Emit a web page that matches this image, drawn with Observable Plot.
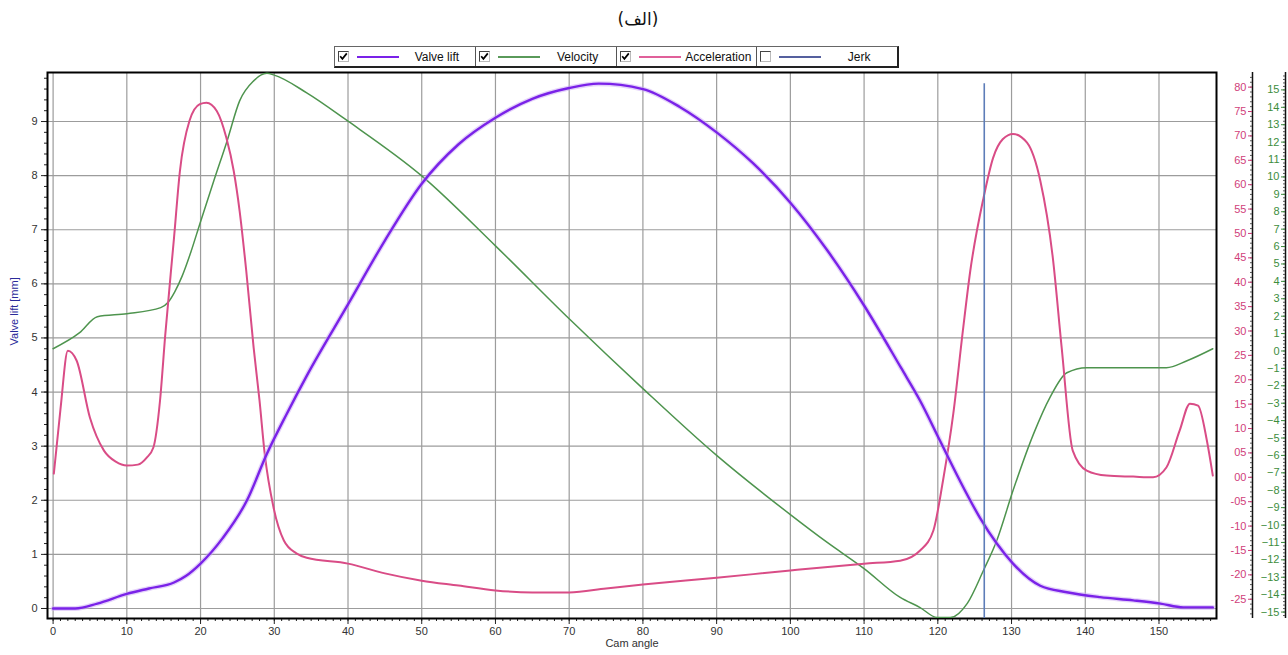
<!DOCTYPE html>
<html>
<head>
<meta charset="utf-8">
<script src="https://cdn.jsdelivr.net/npm/d3@7"></script>
<script src="https://cdn.jsdelivr.net/npm/@observablehq/plot@0.6"></script>
<style>
  body { margin: 0; background: #fff; }
  #wrap { position: relative; width: 1288px; height: 655px; overflow: hidden; font-family: "Liberation Sans", Arial, sans-serif; }
  #wrap > svg { position: absolute; left: 0; top: 0; }
  #title { position: absolute; left: 588px; width: 100px; top: 9px; text-align: center; font: 17px "DejaVu Sans", sans-serif; color: #111; z-index: 5; }
  #legend { position: absolute; left: 334px; top: 46px; width: 562px; height: 19px; display: flex; border: 1px solid #666; border-right: 2px solid #222; border-bottom: 2px solid #222; background: #fff; z-index: 5; }
  .cell { flex: 1; display: flex; align-items: center; border-right: 1px solid #555; }
  .cell:last-child { border-right: none; }
  .cb { width: 9px; height: 9px; border: 1px solid #444; border-right-color: #bbb; border-bottom-color: #bbb; margin-left: 3px; margin-right: 8px; display: flex; align-items: center; justify-content: center; background: #fff; }
  .cb svg { display: block; }
  .ln { width: 42px; height: 2px; }
  .lt { flex: 1; text-align: center; font: 12px "Liberation Sans", Arial, sans-serif; color: #111; }
</style>
</head>
<body>
<div id="wrap">
  <div id="title" dir="rtl">(الف)</div>
  <div id="legend"></div>
</div>
<script>
// ---------- data ----------
const liftAngle = [0,3,6,10,13,16.4,18,20,23,26.3,29,31.7,34.4,40,45,50,55,60,65,70,74,80,85,90,95,100,105,110,115,117.6,120.3,123,125.7,128,130.2,133.9,137.5,142,146.5,150.2,153.3,157.3];
const liftMm    = [0,0,0.09,0.27,0.37,0.48,0.6,0.83,1.3,2.0,2.86,3.6,4.3,5.62,6.8,7.85,8.58,9.07,9.42,9.62,9.7,9.6,9.27,8.8,8.22,7.5,6.62,5.6,4.45,3.84,3.1,2.36,1.68,1.2,0.83,0.42,0.3,0.21,0.15,0.09,0.02,0.02];

const velAngle = [0,3.6,6,10,14.6,15.6,16.5,17.5,18.7,19.9,21.8,23.6,25.3,27.2,29,30,34.4,40,50,60,70,80,90,100,105,110,114.9,117.6,119.9,121.7,124,126.2,128,130.2,133,135.2,137.5,140.2,151,153.8,157.3];
const velValue = [0.13,1.05,1.97,2.14,2.49,2.8,3.4,4.3,5.7,7.3,9.78,12.07,14.37,15.52,15.95,15.85,14.83,13.2,10.06,6.04,1.85,-2.16,-6.0,-9.4,-11.0,-12.5,-14.16,-14.74,-15.31,-15.31,-14.5,-12.6,-10.89,-8.02,-4.75,-2.68,-1.25,-0.96,-0.96,-0.56,0.13];

const accAngle = [0.1,1,2,3.2,5,6.9,8.5,10,11.5,12.7,13.6,14.5,15.2,16.4,17.2,18.5,19.9,20.8,22.2,23.5,24.5,25.3,26.2,27.2,28,28.7,29.9,31.3,33,34.4,40,45,50,55,60,65,70,75,80,90,100,110,114.9,117.6,119.4,120.7,122.1,123.4,124.4,126.2,127.5,128.8,130.2,132.1,133.9,135.6,136.8,138.3,140.2,142.9,146.5,149.2,151,152.8,154.2,155.3,156.5,157.3];
const accValue = [0.76,14,25.96,23.9,12.2,5.47,3.2,2.4,2.6,4.04,6.1,15.7,29,49.1,62.8,73.1,76.5,76.8,75.1,69.6,62.8,54.6,42.3,26.6,15.7,4.86,-6.2,-12.97,-15.6,-16.5,-17.7,-19.7,-21.2,-22.2,-23.2,-23.6,-23.6,-22.8,-22,-20.6,-19.1,-17.7,-17.1,-15.0,-10.9,-0.7,13.05,30.06,42.3,57.3,65.5,69.3,70.4,68.6,60.8,45.0,26.6,5.47,1.37,0.35,0.14,0,2.0,9.57,15.1,14.7,7.5,0.35];

const cursorAngle = [126.3];
const cursorTopMm = [9.7];

const xTicks    = d3.range(0, 151, 10);
const xMinor    = d3.range(0, 158, 1);
const liftTicks = d3.range(0, 10, 1);
const liftMinor = d3.range(0, 9.85, 0.2);
const accTicks  = d3.range(-25, 81, 5);
const accMinor  = d3.range(-28, 83, 1);
const velTicks  = d3.range(-15, 16, 1);
const velMinor  = d3.range(-15.2, 15.95, 0.2);

const legendNames   = ["Valve lift", "Velocity", "Acceleration", "Jerk"];
const legendChecked = [true, true, true, false];
const legendColors  = ["#7a22e8", "#5a9a5a", "#e0609a", "#55609e"];

// ---------- styling / layout ----------
const W = 1288, H = 655;
const M = {top: 72, right: 72, bottom: 37, left: 47};
const xDomain    = [-0.76, 157.8];
const liftDomain = [-0.185, 9.906];
const velDomain  = [-15.37, 16.0];
const accDomain  = [-28.95, 83.0];
const LIFT = "#7a22e8", VEL = "#4e944e", ACC = "#d94c86", CUR = "#5d7db8";

const lift = liftAngle.map((a, i) => ({a, v: liftMm[i]}));
const vel  = velAngle.map((a, i) => ({a, v: velValue[i]}));
const acc  = accAngle.map((a, i) => ({a, v: accValue[i]}));
const cursor = cursorAngle.map((a, i) => ({a, top: cursorTopMm[i]}));

function layer(yDomain, marks) {
  return Plot.plot({
    width: W, height: H,
    marginTop: M.top, marginRight: M.right, marginBottom: M.bottom, marginLeft: M.left,
    x: {domain: xDomain, axis: null},
    y: {domain: yDomain, axis: null},
    style: {background: "transparent", fontFamily: "Liberation Sans, Arial, sans-serif", fontSize: "11px", color: "#222", overflow: "visible"},
    marks
  });
}

const wrap = document.getElementById("wrap");

// base layer: grid, frame, axes
wrap.appendChild(layer(liftDomain, [
  Plot.gridX({ticks: xTicks, stroke: "#9c9c9c", strokeOpacity: 1, strokeWidth: 1.2}),
  Plot.gridY({ticks: liftTicks, stroke: "#9c9c9c", strokeOpacity: 1, strokeWidth: 1.2}),
  Plot.axisX({ticks: xMinor, tickSize: 3, tickFormat: () => "", label: null}),
  Plot.axisX({ticks: xTicks, tickSize: 6, tickPadding: 3, label: null, fill: "#333"}),
  Plot.axisY({anchor: "left", ticks: liftMinor, tickSize: 3, tickFormat: () => "", label: null}),
  Plot.axisY({anchor: "left", ticks: liftTicks, tickSize: 6, tickPadding: 4, label: null, fill: "#333"}),
  Plot.text(["Cam angle"], {text: d => d, frameAnchor: "bottom", dy: 28, fill: "#333", fontSize: 11}),
  Plot.text(["Valve lift [mm]"], {text: d => d, frameAnchor: "left", rotate: -90, dx: -33, fill: "#2a2a9a", fontSize: 11}),
  Plot.frame({stroke: "#000", strokeWidth: 2})
]));

// velocity layer
wrap.appendChild(layer(velDomain, [
  Plot.line(vel, {x: "a", y: "v", stroke: VEL, strokeWidth: 1.5, curve: "monotone-x", clip: true}),
  Plot.ruleX([xDomain[0]], {dx: 1238, stroke: "#111", strokeWidth: 1.5}),
  Plot.axisY({anchor: "left", dx: 1238, ticks: velMinor, tickSize: 2, tickFormat: () => "", label: null, stroke: "#555"}),
  Plot.axisY({anchor: "left", dx: 1238, ticks: velTicks, tickSize: 4, tickPadding: 2, label: null, fill: "#3d8d3d", stroke: "#3d8d3d"})
]));

// acceleration layer
wrap.appendChild(layer(accDomain, [
  Plot.line(acc, {x: "a", y: "v", stroke: ACC, strokeWidth: 2, curve: "monotone-x", clip: true}),
  Plot.ruleX([xDomain[0]], {dx: 1205, stroke: "#111", strokeWidth: 1.5}),
  Plot.axisY({anchor: "left", dx: 1205, ticks: accMinor, tickSize: 2, tickFormat: () => "", label: null, stroke: "#555"}),
  Plot.axisY({anchor: "left", dx: 1205, ticks: accTicks, tickSize: 4, tickPadding: 2, label: null, fill: "#d0407a", stroke: "#d0407a",
    tickFormat: d => (d < 0 ? "-" : "") + String(Math.abs(d)).padStart(2, "0")})
]));

// top layer: valve lift and cursor
wrap.appendChild(layer(liftDomain, [
  Plot.line(lift, {x: "a", y: "v", stroke: "#c9a8f5", strokeWidth: 5, strokeOpacity: 0.5, curve: "monotone-x", clip: true}),
  Plot.line(lift, {x: "a", y: "v", stroke: LIFT, strokeWidth: 2.4, curve: "monotone-x", clip: true}),
  Plot.ruleX(cursor, {x: "a", y1: liftDomain[0], y2: "top", stroke: CUR, strokeWidth: 1.6})
]));

// legend
const checkSvg = '<svg width="9" height="9" viewBox="0 0 9 9"><path d="M1.2 4.2 L3.4 6.8 L7.8 1.4" stroke="#000" stroke-width="1.7" fill="none"/></svg>';
const leg = document.getElementById("legend");
legendNames.forEach((n, i) => {
  const cell = document.createElement("div");
  cell.className = "cell";
  cell.innerHTML = `<span class="cb">${legendChecked[i] ? checkSvg : ""}</span><span class="ln" style="background:${legendColors[i]}"></span><span class="lt">${n}</span>`;
  leg.appendChild(cell);
});
</script>
</body>
</html>
